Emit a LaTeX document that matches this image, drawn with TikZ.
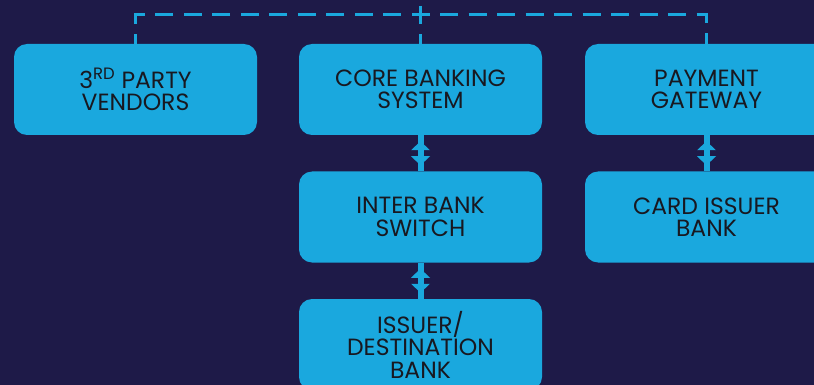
\documentclass[tikz,border=0pt]{standalone}
\usepackage{fontspec}
\setmainfont{Poppins}
\usetikzlibrary{calc}
\definecolor{bg}{RGB}{30,26,72}
\definecolor{boxblue}{RGB}{26,168,222}
\definecolor{txt}{RGB}{24,24,32}
\begin{document}
\begin{tikzpicture}[x=1pt,y=-1pt]
\tikzset{
  box/.style={fill=boxblue, rounded corners=13pt, minimum width=243pt, minimum height=91pt,
    inner sep=0pt, align=center, text=txt, font=\fontsize{23.5}{22.5}\selectfont},
  dashline/.style={draw=boxblue, line width=3pt, dash pattern={on 18pt off 10.5pt}, dash phase=9pt},
  link/.style={draw=boxblue, line width=6pt},
  dbl/.pic={
    \fill[boxblue] (0,-12) -- (-9.5,-3) -- (9.5,-3) -- cycle;
    \fill[boxblue] (0,12) -- (-9.5,3) -- (9.5,3) -- cycle;
  }
}
\useasboundingbox (0,0) rectangle (814,385);
\clip (0,0) rectangle (814,385);
\fill[bg] (0,0) rectangle (814,385);

\node[box] (A) at (135.5,89.5) {3\textsuperscript{RD} PARTY\\VENDORS};
\node[box] (B) at (420.5,89.5) {CORE BANKING\\SYSTEM};
\node[box] (C) at (706.5,89.5) {PAYMENT\\GATEWAY};
\node[box] (D) at (420.5,217) {INTER BANK\\SWITCH};
\node[box] (E) at (706.5,217) {CARD ISSUER\\BANK};
\node[box] (F) at (420.5,344.5) {ISSUER/\\DESTINATION\\BANK};

\coordinate (top) at ($(B.north)+(0,-29)$);
\draw[dashline] (top) -- (top -| A.north) -- (A.north);
\draw[dashline] (top) -- (top -| C.north) -- (C.north);
\draw[dashline, dash phase=0pt] ($(top)+(0,-9)$) -- (B.north);

\draw[link] (B.south) -- (D.north);
\pic at ($(B.south)!0.5!(D.north)$) {dbl};
\draw[link] (D.south) -- (F.north);
\pic at ($(D.south)!0.5!(F.north)$) {dbl};
\draw[link] (C.south) -- (E.north);
\pic at ($(C.south)!0.5!(E.north)$) {dbl};
\end{tikzpicture}
\end{document}
